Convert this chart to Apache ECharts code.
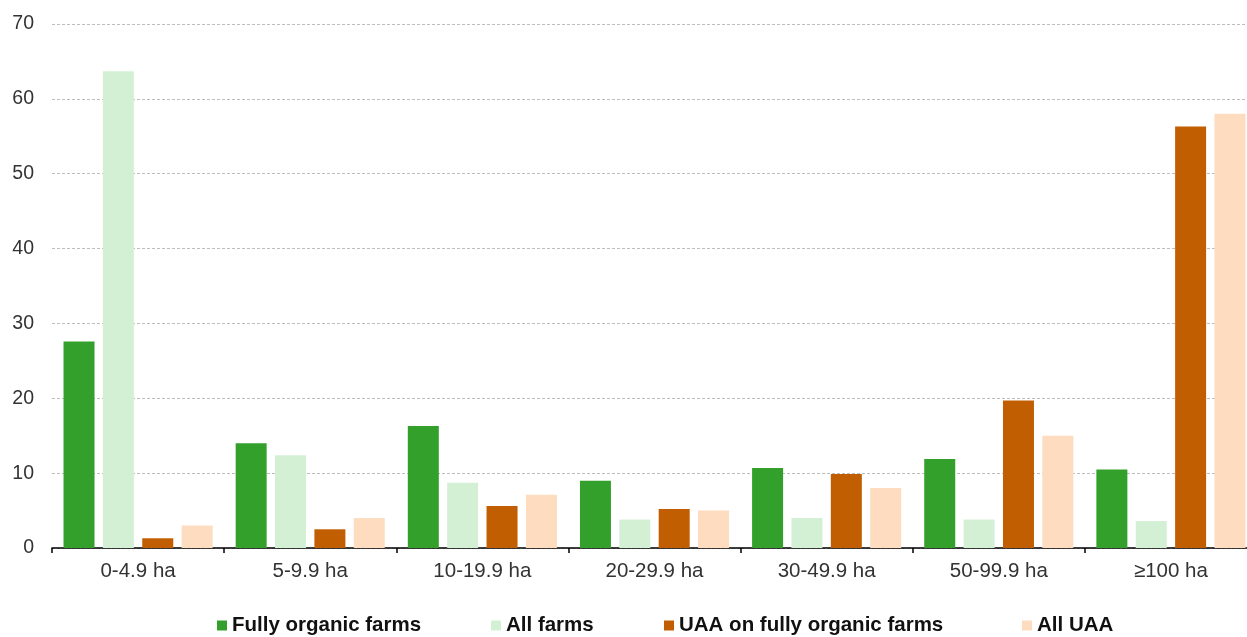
<!DOCTYPE html>
<html>
<head>
<meta charset="utf-8">
<script src="https://cdn.jsdelivr.net/npm/echarts@6/dist/echarts.min.js"></script>
<style>
  html, body { margin: 0; padding: 0; background: #fff; }
  #chart { width: 1247px; height: 637px; }
</style>
</head>
<body>
<div id="chart"></div>
<script>
// Farm size classes
const categories = ['0-4.9 ha', '5-9.9 ha', '10-19.9 ha', '20-29.9 ha', '30-49.9 ha', '50-99.9 ha', '≥100 ha'];

// Shares (%) by size class
const fullyOrganicFarms = [27.6, 14.0, 16.3, 9.0, 10.7, 11.9, 10.5];
const allFarms          = [63.7, 12.4, 8.7, 3.8, 4.0, 3.8, 3.6];
const uaaFullyOrganic   = [1.3, 2.5, 5.6, 5.2, 9.9, 19.7, 56.3];
const allUaa            = [3.0, 4.0, 7.1, 5.0, 8.0, 15.0, 58.0];

const seriesNames = ['Fully organic farms', 'All farms', 'UAA on fully organic farms', 'All UAA'];
const seriesValues = [fullyOrganicFarms, allFarms, uaaFullyOrganic, allUaa];
const colors = ['#33a02c', '#d3f0d4', '#c25e02', '#fddcbf'];

const yTicks = { min: 0, max: 70, interval: 10 };

const font = '"Liberation Sans", Arial, sans-serif';
const legendLefts = [217, 491, 664, 1022];

const chart = echarts.init(document.getElementById('chart'), null, { renderer: 'canvas' });

chart.setOption({
  animation: false,
  color: colors,
  // plot area runs slightly past the right edge of the canvas
  grid: { left: 52, right: -10, top: 24, bottom: 89, containLabel: false, outerBoundsMode: 'none' },
  legend: seriesNames.map((name, i) => ({
    data: [name],
    left: legendLefts[i],
    top: 615,
    icon: 'rect',
    itemWidth: 10,
    itemHeight: 10,
    itemGap: 0,
    padding: 0,
    selectedMode: false,
    textStyle: { fontFamily: font, fontSize: 20.5, fontWeight: 'bold', color: '#111' }
  })),
  xAxis: {
    type: 'category',
    data: categories,
    axisLine: { lineStyle: { color: '#000', width: 1.5 } },
    axisTick: { show: true, length: 5, lineStyle: { color: '#000', width: 1.5 } },
    axisLabel: { fontFamily: font, fontSize: 20.5, color: '#333', margin: 13 }
  },
  yAxis: {
    type: 'value',
    min: yTicks.min,
    max: yTicks.max,
    interval: yTicks.interval,
    axisLine: { show: false },
    axisTick: { show: false },
    axisLabel: { fontFamily: font, fontSize: 19.5, color: '#333', margin: 18 },
    splitLine: { lineStyle: { color: '#bdbdbd', type: [3, 2], width: 1 } }
  },
  series: seriesNames.map((name, i) => ({
    name,
    type: 'bar',
    data: seriesValues[i],
    barWidth: 31,
    barGap: '27%',
    itemStyle: { color: colors[i] }
  }))
});
</script>
</body>
</html>
